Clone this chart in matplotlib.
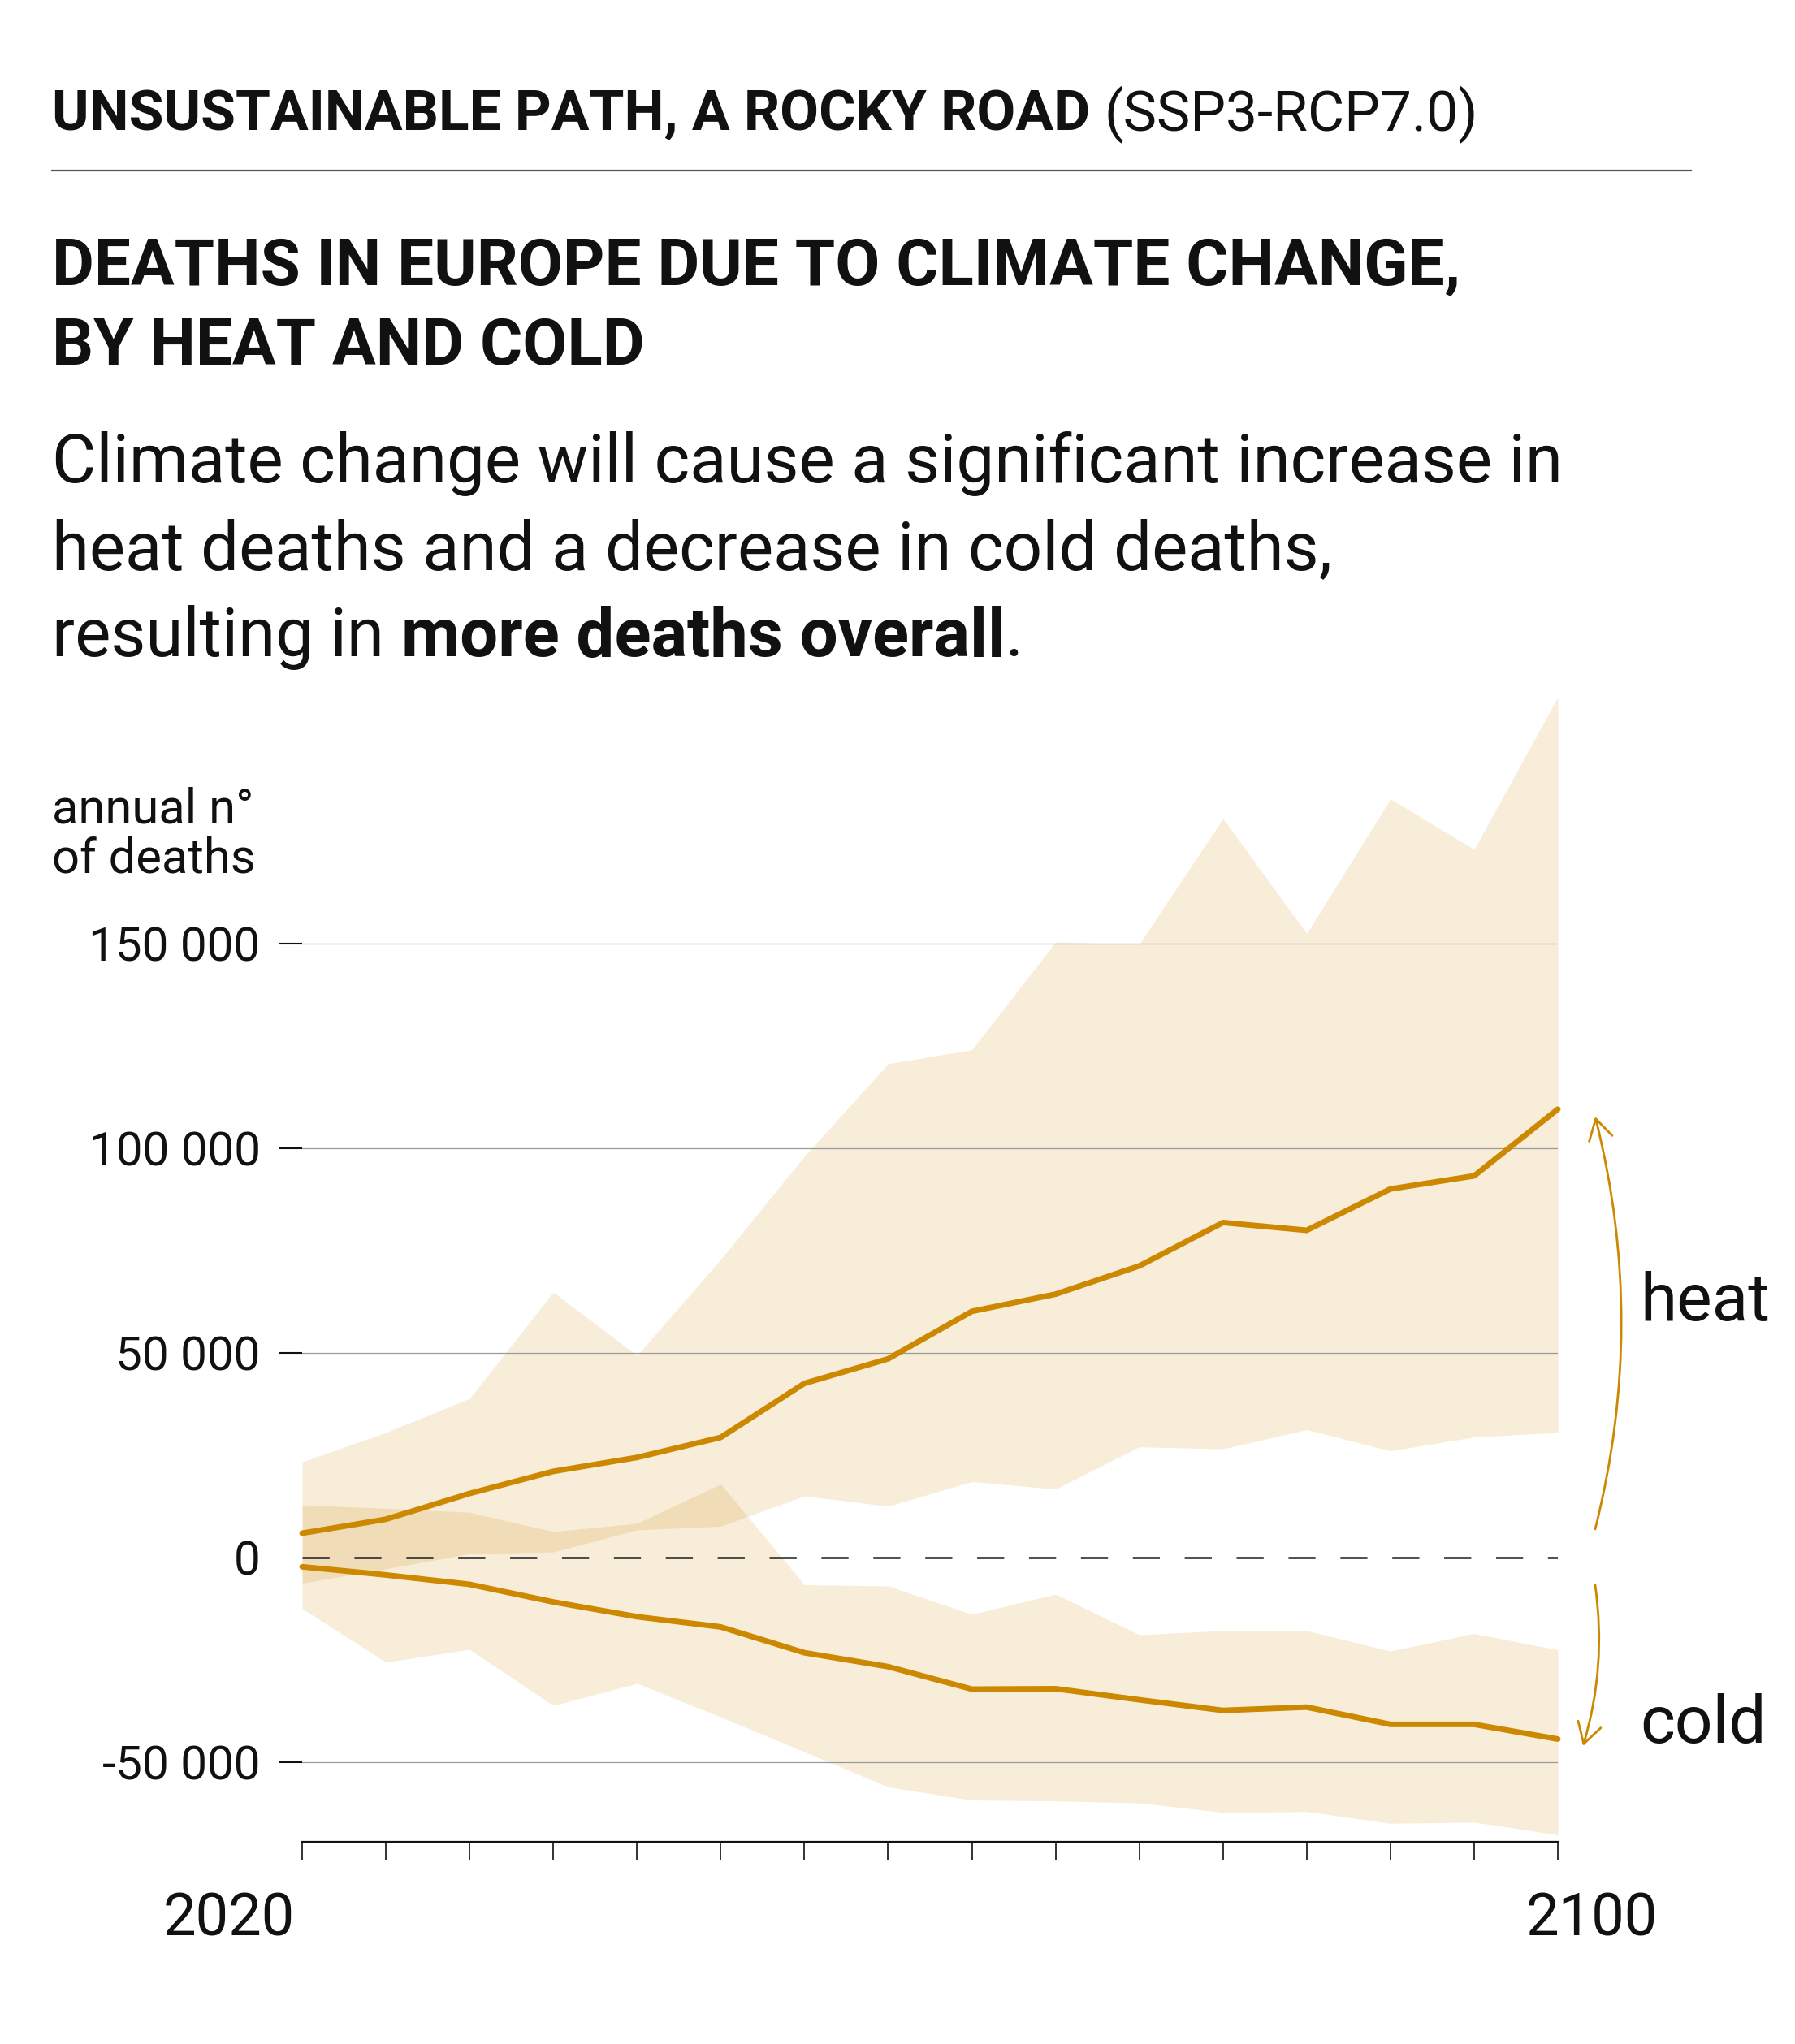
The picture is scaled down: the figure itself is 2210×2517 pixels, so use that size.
import numpy as np
import matplotlib
matplotlib.use("Agg")
import matplotlib.pyplot as plt

# ---------------- data ----------------
x_labels = ["2020", "2100"]
heat_mid = [5900, 9300, 15600, 21000, 24400, 29300, 42500, 48500, 60100, 64300,
            71200, 81800, 79900, 90000, 93200, 109500]
heat_low = [-6300, -2800, 900, 1300, 6700, 7600, 15000, 12500, 18500, 16700,
            27000, 26500, 31200, 26000, 29400, 30500]
heat_high = [23300, 30500, 38800, 64800, 49300, 72800, 98000, 120600, 124000, 150300,
             149800, 180500, 152400, 185300, 173000, 210200]
cold_mid = [-2300, -4300, -6600, -10900, -14500, -17000, -23300, -26700, -32200, -32100,
            -34800, -37400, -36600, -40800, -40800, -44400]
cold_high = [12800, 12000, 11000, 6300, 8300, 17900, -6700, -7000, -13900, -9000,
             -18900, -17900, -17900, -22900, -18600, -22600]
cold_low = [-12500, -25600, -22500, -36200, -30800, -39000, -47500, -56100, -59300, -59500,
            -60000, -62300, -62100, -65000, -64700, -67800]
y_ticks = [-50000, 0, 50000, 100000, 150000]
y_ticklabels = ["-50 000", "0", "50 000", "100 000", "150 000"]

# ---------------- style ----------------
FAM = ['Roboto', 'DejaVu Sans']
plt.rcParams['font.family'] = FAM
plt.rcParams['lines.scale_dashes'] = False

LINE = '#CC8800'
TXT = '#111111'
W, H = 2210, 2517
fig = plt.figure(figsize=(W / 100, H / 100), dpi=100)

def fy(px):
    return 1 - px / H

def fx(px):
    return px / W

# ---------------- titles ----------------
t1 = fig.text(fx(64), fy(160), "UNSUSTAINABLE PATH, A ROCKY ROAD ", fontsize=50,
              fontweight='bold', color=TXT, va='baseline', ha='left')
fig.canvas.draw()
ext = t1.get_window_extent()
fig.text(ext.x1 / W, fy(160), "(SSP3-RCP7.0)", fontsize=50, fontweight='normal',
         color=TXT, va='baseline', ha='left')

fig.add_artist(plt.Line2D([fx(64), fx(2082)], [fy(210), fy(210)], color='#555555', lw=1.6))

fig.text(fx(64), fy(350), "DEATHS IN EUROPE DUE TO CLIMATE CHANGE,", fontsize=57.5,
         fontweight='bold', color=TXT, va='baseline', ha='left')
fig.text(fx(64), fy(449), "BY HEAT AND COLD", fontsize=57.5,
         fontweight='bold', color=TXT, va='baseline', ha='left')

sub = ["Climate change will cause a significant increase in",
       "heat deaths and a decrease in cold deaths,"]
for i, s in enumerate(sub):
    fig.text(fx(64), fy(594 + 107 * i), s, fontsize=60, color=TXT,
             va='baseline', ha='left')
t3 = fig.text(fx(64), fy(808), "resulting in ", fontsize=60, color=TXT,
              va='baseline', ha='left')
fig.canvas.draw()
e3 = t3.get_window_extent()
t4 = fig.text(e3.x1 / W, fy(808), "more deaths overall", fontsize=60, fontweight='bold',
              color=TXT, va='baseline', ha='left')
fig.canvas.draw()
e4 = t4.get_window_extent()
fig.text(e4.x1 / W, fy(808), ".", fontsize=60, color=TXT, va='baseline', ha='left')

fig.text(fx(64), fy(1014), "annual n°", fontsize=43, color=TXT, va='baseline', ha='left')
fig.text(fx(64), fy(1075), "of deaths", fontsize=43, color=TXT, va='baseline', ha='left')

# ---------------- axes ----------------
ymin, ymax = -69500, 212000
ax_bottom = 2268
ax_top = ax_bottom - (ymax - ymin) / 50000 * 252
ax = fig.add_axes([fx(372), fy(ax_bottom), fx(1918) - fx(372), (ax_bottom - ax_top) / H])
x = np.arange(len(heat_mid))
ax.set_xlim(x[0], x[-1])
ax.set_ylim(ymin, ymax)

ax.fill_between(x, heat_low, heat_high, color=LINE, alpha=0.15, lw=0, zorder=1)
ax.fill_between(x, cold_low, cold_high, color=LINE, alpha=0.15, lw=0, zorder=1)

for v in y_ticks:
    if v != 0:
        ax.axhline(v, color='#9a9a9a', lw=0.9, zorder=2)
ax.plot([x[0], x[-1]], [0, 0], color='#1a1a1a', lw=1.8, ls=(0, (24, 22)), zorder=3)

ax.plot(x, heat_mid, color=LINE, lw=5, solid_capstyle='round', solid_joinstyle='round',
        zorder=4, clip_on=False)
ax.plot(x, cold_mid, color=LINE, lw=5, solid_capstyle='round', solid_joinstyle='round',
        zorder=4, clip_on=False)

for s in ['left', 'right', 'top']:
    ax.spines[s].set_visible(False)
ax.spines['bottom'].set_linewidth(1.6)
ax.spines['bottom'].set_color(TXT)

ax.set_yticks(y_ticks)
ax.set_yticklabels(y_ticklabels, fontsize=42, color=TXT)
ax.tick_params(axis='y', length=21, width=1.5, color=TXT, pad=16)
for t, v in zip(ax.yaxis.get_major_ticks(), y_ticks):
    if v == 0:
        t.tick1line.set_visible(False)

ax.set_xticks(x)
ax.set_xticklabels([])
ax.tick_params(axis='x', length=16.5, width=1.2, color=TXT, direction='out')

ax.annotate(x_labels[0], xy=(x[0], 0), xycoords=('data', 'axes fraction'),
            xytext=(-90, -115), textcoords='offset pixels', ha='center', va='baseline',
            fontsize=52, color=TXT, annotation_clip=False)
ax.annotate(x_labels[1], xy=(x[-1], 0), xycoords=('data', 'axes fraction'),
            xytext=(42, -115), textcoords='offset pixels', ha='center', va='baseline',
            fontsize=52, color=TXT, annotation_clip=False)

# ---------------- annotations ----------------
fig.text(fx(2019), fy(1626), "heat", fontsize=59, color=TXT, va='baseline', ha='left')
fig.text(fx(2019), fy(2146), "cold", fontsize=59, color=TXT, va='baseline', ha='left')

ax.annotate('', xy=(1964, H - 1375), xycoords='figure pixels',
            xytext=(1964, H - 1883), textcoords='figure pixels',
            arrowprops=dict(arrowstyle='->,head_length=0.6,head_width=0.35', color=LINE,
                            lw=2.0, connectionstyle='arc3,rad=0.126', mutation_scale=30,
                            shrinkA=0, shrinkB=0))
ax.annotate('', xy=(1949, H - 2150), xycoords='figure pixels',
            xytext=(1964, H - 1952), textcoords='figure pixels',
            arrowprops=dict(arrowstyle='->,head_length=0.6,head_width=0.35', color=LINE,
                            lw=2.0, connectionstyle='arc3,rad=-0.11', mutation_scale=30,
                            shrinkA=0, shrinkB=0))

fig.savefig("out.png", dpi=100, facecolor='white')
